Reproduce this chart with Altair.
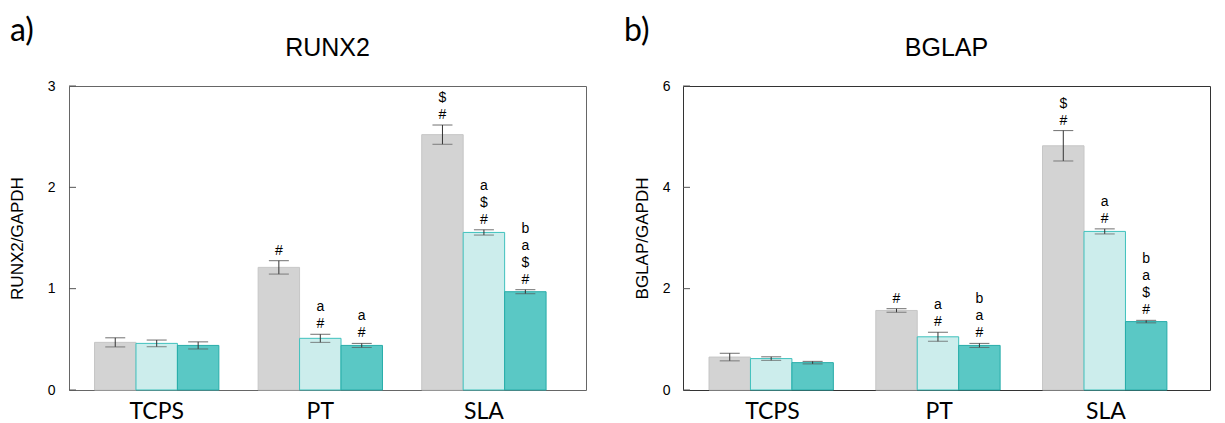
import altair as alt
import pandas as pd

groups = ["TCPS", "PT", "SLA"]
series = ["s1", "s2", "s3"]

runx2_mean = [[0.47, 0.46, 0.44], [1.21, 0.51, 0.44], [2.52, 1.555, 0.97]]
runx2_err = [[0.045, 0.033, 0.035], [0.066, 0.04, 0.02], [0.095, 0.026, 0.02]]
# significance symbols, listed from bottom (closest to the bar) to top
runx2_marks = [[[], [], []],
               [["#"], ["#", "a"], ["#", "a"]],
               [["#", "$"], ["#", "$", "a"], ["#", "$", "a", "b"]]]
runx2_ticks = [0, 1, 2, 3]

bglap_mean = [[0.65, 0.62, 0.54], [1.57, 1.05, 0.88], [4.82, 3.13, 1.35]]
bglap_err = [[0.075, 0.035, 0.025], [0.035, 0.09, 0.04], [0.3, 0.05, 0.025]]
bglap_marks = [[[], [], []],
               [["#"], ["#", "a"], ["#", "a", "b"]],
               [["#", "$"], ["#", "a"], ["#", "$", "a", "b"]]]
bglap_ticks = [0, 2, 4, 6]

fills = ["#d3d3d3", "#ccedec", "#5ac8c5"]
strokes = ["#c6c6c6", "#3fc1bd", "#27aca9"]


def panel(title, letter, ytitle, means, errs, marks, ymax, yticks, width,
          lab_pad, title_pad, frame):
    rows = []
    srows = []
    for gi, g in enumerate(groups):
        for si, s in enumerate(series):
            m = means[gi][si]
            e = errs[gi][si]
            rows.append(dict(group=g, series=s, mean=m, lo=m - e, hi=m + e))
            for k, sym in enumerate(marks[gi][si]):
                srows.append(dict(group=g, series=s, hi=m + e, level=k, sym=sym))
    df = pd.DataFrame(rows)
    sdf = pd.DataFrame(srows)

    xenc = alt.X("group:N", sort=groups,
                 scale=alt.Scale(paddingInner=0.24, paddingOuter=0.2, align=0.39),
                 axis=alt.Axis(title=None, labelAngle=0, labelFont="Lato",
                               labelFontSize=23, labelColor="#000", tickSize=0,
                               domain=False, labelPadding=10))
    xoff = alt.XOffset("series:N", sort=series,
                       scale=alt.Scale(paddingInner=0, paddingOuter=0))
    yscale = alt.Scale(domain=[0, ymax], nice=False)
    yaxis = alt.Axis(title=ytitle, titleFont="Liberation Sans", titleFontSize=17,
                     titleFontWeight="normal", titleColor="#000",
                     labelFont="Liberation Sans", labelFontSize=14, labelColor="#000",
                     values=yticks, tickSize=0, domain=False, grid=False,
                     labelPadding=lab_pad, titlePadding=title_pad, format="d")

    base = alt.Chart(df)
    bars = base.mark_bar(strokeWidth=1).encode(
        x=xenc, xOffset=xoff,
        y=alt.Y("mean:Q", scale=yscale, axis=yaxis),
        color=alt.Color("series:N", scale=alt.Scale(domain=series, range=fills), legend=None),
        stroke=alt.Stroke("series:N", scale=alt.Scale(domain=series, range=strokes), legend=None),
    )
    rule = base.mark_rule(color="#333", strokeWidth=1).encode(
        x=xenc, xOffset=xoff, y=alt.Y("lo:Q", scale=yscale), y2="hi:Q")
    cap_hi = base.mark_tick(color="#333", size=20, thickness=1, orient="horizontal").encode(
        x=xenc, xOffset=xoff, y=alt.Y("hi:Q", scale=yscale))
    cap_lo = base.mark_tick(color="#555", size=20, thickness=1, orient="horizontal").encode(
        x=xenc, xOffset=xoff, y=alt.Y("lo:Q", scale=yscale))

    layers = [bars, rule, cap_hi, cap_lo]
    for k in range(4):
        layers.append(
            alt.Chart(sdf).transform_filter(alt.datum.level == k).mark_text(
                baseline="middle", fontSize=14, font="Liberation Sans",
                color="#000", dy=-10 - 17 * k).encode(
                x=xenc, xOffset=xoff, y=alt.Y("hi:Q", scale=yscale), text="sym:N"))

    tdf = pd.DataFrame({"v": yticks})
    layers.append(alt.Chart(tdf).mark_rule(color="#555").encode(
        y=alt.Y("v:Q", scale=yscale), x=alt.value(0), x2=alt.value(7)))

    ldf = pd.DataFrame({"t": [letter], "title": [title]})
    layers.append(alt.Chart(ldf).mark_text(align="left", baseline="middle", font="Lato",
                                           fontSize=32, color="#000").encode(
        x=alt.value(-59), y=alt.value(-55), text="t:N"))
    layers.append(alt.Chart(ldf).mark_text(align="center", baseline="alphabetic",
                                           font="Liberation Sans", fontSize=25,
                                           color="#000").encode(
        x=alt.value(width / 2), y=alt.value(-30), text="title:N"))

    return alt.LayerChart(layer=layers, width=width, height=304,
                          view=alt.ViewBackground(stroke=frame, strokeWidth=1))


pa = panel("RUNX2", "a)", "RUNX2/GAPDH", runx2_mean, runx2_err, runx2_marks,
           3, runx2_ticks, 517, 14, 21, "#666")
pb = panel("BGLAP", "b)", "BGLAP/GAPDH", bglap_mean, bglap_err, bglap_marks,
           6, bglap_ticks, 527, 13, 11, "#333")

chart = alt.hconcat(pa, pb, spacing=36).properties(
    padding={"left": 7, "top": 14, "right": 0, "bottom": 0},
    background="white",
)

chart.save("out.html", embed_options={"renderer": "svg", "actions": False})
